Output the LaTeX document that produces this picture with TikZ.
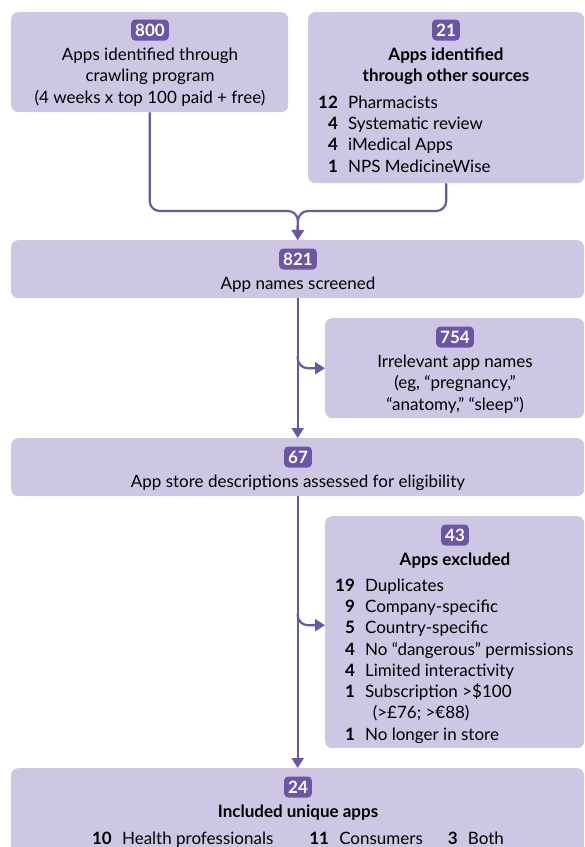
\documentclass[tikz,border=0pt]{standalone}
\usepackage{fontspec}
\setmainfont{Lato}
\usetikzlibrary{arrows.meta,positioning}

\definecolor{stagefill}{HTML}{CDC7E3}
\definecolor{flowcol}{HTML}{6A55A6}
\newcommand\mainsize{\fontsize{17}{21.3}\selectfont}

\tikzset{
  stage/.style={fill=stagefill,rounded corners=7pt,inner sep=0pt,anchor=north west},
  badge/.style={fill=flowcol,text=white,rounded corners=4pt,font=\bfseries\mainsize,
    inner xsep=4pt,inner ysep=0pt,text height=12.5pt,text depth=0pt,minimum height=21pt},
  txt/.style={inner sep=0pt,align=center,font=\mainsize},
  list/.style={inner sep=0pt,anchor=north west,font=\mainsize},
  flow/.style={draw=flowcol,line width=2.2pt,-{Triangle[length=10pt,width=12pt]}},
}

\begin{document}
\begin{tikzpicture}[x=1pt,y=-1pt]
\useasboundingbox (0,0) rectangle (585,847);
\clip (0,0) rectangle (585,847);

% sources
\path (11,12)  node[stage,minimum width=277pt,minimum height=100pt] (A) {};
\path (150,30) node[badge] (nA) {800};
\node[txt,below=7pt of nA] (tA) {Apps identified through\\crawling program\\(4 weeks x top 100 paid + free)};

\path (308,12) node[stage,minimum width=276pt,minimum height=171pt] (B) {};
\path (446,30) node[badge] (nB) {21};
\node[txt,font=\bfseries\mainsize,below=7pt of nB] (hB) {Apps identified\\through other sources};
\path (318,93) node[list] (lB) {\begin{tabular}{@{}r@{\hspace{0.6em}}l@{}}
\textbf{12} & Pharmacists\\
\textbf{4} & Systematic review\\
\textbf{4} & iMedical Apps\\
\textbf{1} & NPS MedicineWise
\end{tabular}};

% screening
\path (11,240)  node[stage,minimum width=573pt,minimum height=58pt] (C) {};
\path (298,259) node[badge] (nC) {821};
\node[txt,below=7pt of nC] (tC) {App names screened};

\path (325,318) node[stage,minimum width=259pt,minimum height=100pt] (D) {};
\path (455,337) node[badge] (nD) {754};
\node[txt,below=7pt of nD] (tD) {Irrelevant app names\\(eg, “pregnancy,”\\“anatomy,” “sleep”)};

% eligibility
\path (11,438)  node[stage,minimum width=573pt,minimum height=58pt] (E) {};
\path (298,457) node[badge] (nE) {67};
\node[txt,below=7pt of nE] (tE) {App store descriptions assessed for eligibility};

\path (325,516) node[stage,minimum width=259pt,minimum height=232pt] (F) {};
\path (455,535) node[badge] (nF) {43};
\node[txt,font=\bfseries\mainsize,below=7pt of nF] (hF) {Apps excluded};
\path (335,576) node[list] (lF) {\begin{tabular}{@{}r@{\hspace{0.6em}}l@{}}
\textbf{19} & Duplicates\\
\textbf{9} & Company-specific\\
\textbf{5} & Country-specific\\
\textbf{4} & No “dangerous” permissions\\
\textbf{4} & Limited interactivity\\
\textbf{1} & Subscription >\$100\\
 & \hspace{0.45em}(>£76; >€88)\\
\textbf{1} & No longer in store
\end{tabular}};

% included
\path (11,768)  node[stage,minimum width=573pt,minimum height=100pt] (G) {};
\path (298,787) node[badge] (nG) {24};
\node[txt,font=\bfseries\mainsize,below=7pt of nG] (hG) {Included unique apps};
\node[txt,below=11pt of hG] (tG) {\textbf{10}\hspace{0.6em}Health professionals\hspace{36pt}\textbf{11}\hspace{0.6em}Consumers\hspace{25pt}\textbf{3}\hspace{0.6em}Both};

% connectors
\coordinate (join) at (298,211);
\draw[flow,rounded corners=10pt] (A.south) |- (join) -- (C.north);
\draw[flow,rounded corners=10pt] (B.south) |- (join) -- (C.north);
\draw[flow] (C.south) -- (E.north);
\coordinate (inD) at (D.west);
\draw[flow,rounded corners=10pt] ([yshift=12pt]inD -| C.south) |- (inD);
\draw[flow] (E.south) -- (G.north);
\coordinate (inF) at ([yshift=7pt]F.west);
\draw[flow,rounded corners=10pt] ([yshift=11pt]inF -| E.south) |- (inF);
\end{tikzpicture}
\end{document}
